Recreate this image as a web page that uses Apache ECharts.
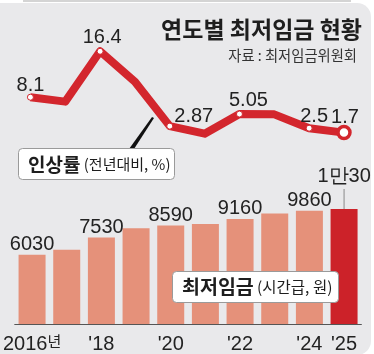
<!DOCTYPE html>
<html>
<head>
<meta charset="utf-8">
<script src="https://cdn.jsdelivr.net/npm/echarts@6/dist/echarts.min.js"></script>
<style>
  html, body { margin: 0; padding: 0; background: #fff; }
  #chart { width: 374px; height: 354px; }
</style>
</head>
<body>
<div id="chart"></div>
<script>
// 연도별 최저임금 현황 (2016~2025)
const years = ['2016', '2017', '2018', '2019', '2020', '2021', '2022', '2023', '2024', '2025']
const yearLabels = ['2016년', '', "'18", '', "'20", '', "'22", '', "'24", "'25"]
const raiseRate = [8.1, 7.3, 16.4, 10.9, 2.87, 1.5, 5.05, 5.0, 2.5, 1.7]
const rateLabels = ['8.1', '', '16.4', '', '2.87', '', '5.05', '', '2.5', '1.7']
const wage = [6030, 6470, 7530, 8350, 8590, 8720, 9160, 9620, 9860, 10030]
const wageLabels = ['6030', '', '7530', '', '8590', '', '9160', '', '9860', '1만30']

const RED = '#d3262d'
const BAR = '#e5917a'
const BAR_LAST = '#cc2229'
const NUM_FONT = '"Liberation Sans", Arial, sans-serif'
const KR_FONT = '"Noto Sans CJK KR", "Noto Sans", sans-serif'
const NUM_SIZE = 20

// 라벨 위치 보정 (px)
const rateOffsets = { 0: [0, 4], 2: [2, 2], 4: [24, 6], 6: [9, 2], 8: [5, 4], 9: [1, 5] }

const chart = echarts.init(document.getElementById('chart'))

const option = {
    animation: false,
    grid: [
        { left: 13, right: 12.6, top: 31.4, height: 110.6 },
        { left: 13, right: 12.6, top: 186.3, height: 144.7 }
    ],
    xAxis: [
        { type: 'category', gridIndex: 0, data: years, show: false },
        {
            type: 'category', gridIndex: 1, data: years,
            axisLine: { lineStyle: { color: '#555', width: 1 } },
            axisTick: { show: false },
            axisLabel: {
                interval: 0, margin: 10,
                formatter: (v, i) => {
                    const t = yearLabels[i]
                    if (!t) return ''
                    if (t.endsWith('년')) return '{n|' + t.slice(0, -1) + '}{k|년}'
                    return '{n|' + t + '}'
                },
                rich: {
                    n: { fontFamily: NUM_FONT, fontSize: NUM_SIZE, color: '#222' },
                    k: { fontFamily: KR_FONT, fontSize: 15, color: '#222', verticalAlign: 'top' }
                }
            }
        }
    ],
    yAxis: [
        { type: 'value', gridIndex: 0, min: 0, max: 20, show: false },
        { type: 'value', gridIndex: 1, min: 0, max: 12000, show: false }
    ],
    series: [
        {
            type: 'line',
            xAxisIndex: 0, yAxisIndex: 0,
            symbol: 'circle',
            lineStyle: { color: RED, width: 8, join: 'round' },
            itemStyle: { color: '#fff', borderColor: RED, borderWidth: 1 },
            label: {
                position: 'top', distance: 2,
                fontFamily: NUM_FONT, fontSize: NUM_SIZE, color: '#222',
                formatter: (p) => rateLabels[p.dataIndex]
            },
            data: raiseRate.map((v, i) => {
                const item = { value: v }
                if (!rateLabels[i]) {
                    item.symbol = 'none'
                    item.label = { show: false }
                } else {
                    item.symbolSize = i === 9 ? 12 : 6
                    if (i === 9) item.itemStyle = { borderWidth: 3.5 }
                    item.label = { show: true, offset: rateOffsets[i] || [0, 0] }
                }
                return item
            }),
            z: 5
        },
        {
            type: 'bar',
            xAxisIndex: 1, yAxisIndex: 1,
            barWidth: 27,
            itemStyle: { color: BAR },
            label: {
                show: true, position: 'top', distance: 0,
                fontFamily: NUM_FONT, fontSize: NUM_SIZE, color: '#222',
                formatter: (p) => wageLabels[p.dataIndex]
            },
            data: wage.map((v, i) => {
                const item = { value: v }
                if (i === wage.length - 1) {
                    item.itemStyle = { color: BAR_LAST }
                    item.label = {
                        distance: 0,
                        formatter: '{a|' + wageLabels[i] + '}\n{l| }',
                        rich: {
                            a: { fontFamily: NUM_FONT, fontSize: NUM_SIZE, color: '#222', lineHeight: 24 },
                            l: { width: 1, height: 20, lineHeight: 20, backgroundColor: '#8a8a8a', fontSize: 1 }
                        }
                    }
                }
                return item
            })
        }
    ],
    graphic: [
        // 배경 카드
        { type: 'rect', z: -10, shape: { x: -20, y: 3, width: 391, height: 352, r: 14 }, style: { fill: '#e9e9eb' } },
        { type: 'rect', z: -10, shape: { x: 23, y: 0, width: 328, height: 2 }, style: { fill: '#d4d4d4' } },
        // 제목
        {
            type: 'text', x: 362, y: 29, z: 10,
            style: { text: '연도별 최저임금 현황', fontFamily: KR_FONT, fontWeight: 'bold', fontSize: 23, fill: '#1e1e1e', align: 'right', verticalAlign: 'middle' }
        },
        {
            type: 'text', x: 357, y: 56, z: 10,
            style: { text: '자료 : 최저임금위원회', fontFamily: KR_FONT, fontSize: 14.3, fill: '#333', align: 'right', verticalAlign: 'middle' }
        },
        // 인상률 설명선
        { type: 'polygon', z: 10, shape: { points: [[152, 117], [154, 118], [134, 149], [129, 149]] }, style: { fill: '#111' } },
        { type: 'rect', z: 10, shape: { x: 18.5, y: 148.5, width: 156, height: 31, r: 4 }, style: { fill: '#fff', stroke: '#9a9a9a', lineWidth: 1 } },
        {
            type: 'text', x: 28, y: 164.5, z: 11,
            style: {
                text: '{b|인상률} {s|(전년대비, %)}', verticalAlign: 'middle',
                rich: {
                    b: { fontFamily: KR_FONT, fontWeight: 'bold', fontSize: 19, fill: '#1e1e1e' },
                    s: { fontFamily: KR_FONT, fontSize: 15, fill: '#1e1e1e' }
                }
            }
        },
        // 최저임금 설명
        { type: 'rect', z: 10, shape: { x: 172.5, y: 271.5, width: 166, height: 31, r: 4 }, style: { fill: '#fff', stroke: '#9a9a9a', lineWidth: 1 } },
        {
            type: 'text', x: 182, y: 287, z: 11,
            style: {
                text: '{b|최저임금} {s|(시간급, 원)}', verticalAlign: 'middle',
                rich: {
                    b: { fontFamily: KR_FONT, fontWeight: 'bold', fontSize: 19.5, fill: '#1e1e1e' },
                    s: { fontFamily: KR_FONT, fontSize: 15.5, fill: '#1e1e1e' }
                }
            }
        }
    ]
}

chart.setOption(option)
window.addEventListener('resize', () => chart.resize())
</script>
</body>
</html>
